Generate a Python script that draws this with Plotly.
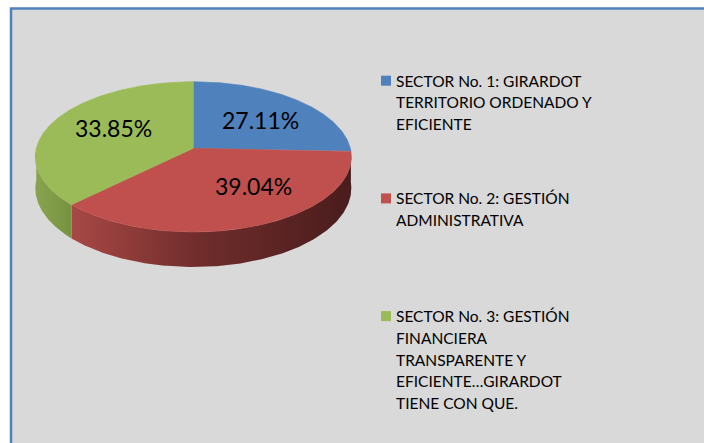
import textwrap
import numpy as np
import plotly.graph_objects as go

# ---- data -------------------------------------------------------------
categories = [
    "SECTOR No. 1: GIRARDOT TERRITORIO ORDENADO Y EFICIENTE",
    "SECTOR No. 2: GESTIÓN ADMINISTRATIVA",
    "SECTOR No. 3: GESTIÓN FINANCIERA TRANSPARENTE Y EFICIENTE…GIRARDOT TIENE CON QUE.",
]
shares = [27.11, 39.04, 33.85]

# ---- styles -----------------------------------------------------------
top_colors = ["#4F81BD", "#C0504D", "#9BBB59"]
wall_scales = [
    [[0, "#3F6896"], [1, "#2E4C70"]],
    [[0, "#A84845"], [0.45, "#702D2C"], [1, "#4A1C1C"]],
    [[0, "#88A451"], [1, "#779340"]],
]
FONT = "Lato"

# ---- 3-D pie camera (pixel space of a 704x443 page) -------------------
CX, CY = 193.3, 148.3      # projected centre of the top face
AX = 157.0                 # horizontal radius
PY, K = 57.3, 0.1138       # vertical scale / perspective strength
DEPTH = 31.0               # pie thickness
WARP, WARP_POW = 26.0, 5.4  # front foreshortening of slice angles


def warp(theta):
    t = np.asarray(theta, dtype=float)
    return t - WARP * np.sin(np.radians(t) / 2) ** WARP_POW


def project(phi, r=1.0, drop=0.0):
    p = np.radians(phi)
    u = r * np.sin(p)
    v = -r * np.cos(p)
    w = 1 - K * v
    return CX + AX * u / w, (CY + PY * v) / w + drop / w


fig = go.Figure()

# slice boundaries, clockwise from 12 o'clock
cum = np.concatenate([[0], np.cumsum(shares)]) / np.sum(shares) * 360.0
wa_all = warp(cum)

# side walls (front half only), drawn first so tops cover them
for i in range(len(shares)):
    a, b = max(wa_all[i], 90.0), min(wa_all[i + 1], 270.0)
    if a >= b:
        continue
    ph = np.linspace(a, b, 200)
    xt, yt = project(ph)
    xb, yb = project(ph[::-1], drop=DEPTH)
    xs = np.concatenate([xt, xb, xt[:1]])
    ys = np.concatenate([yt, yb, yt[:1]])
    fig.add_trace(go.Scatter(
        x=xs, y=ys, mode="lines", fill="toself",
        line=dict(width=0), fillgradient=dict(type="horizontal", colorscale=wall_scales[i]),
        hoverinfo="skip", showlegend=False))

# top faces
for i in range(len(shares)):
    ph = np.linspace(wa_all[i], wa_all[i + 1], 300)
    xr, yr = project(ph)
    xs = np.concatenate([[CX], xr, [CX]])
    ys = np.concatenate([[CY], yr, [CY]])
    fig.add_trace(go.Scatter(
        x=xs, y=ys, mode="lines", fill="toself", fillcolor=top_colors[i],
        line=dict(width=0.6, color=top_colors[i]),
        hoverinfo="skip", showlegend=False))

# percentage labels at the slice middles
mids = warp((cum[:-1] + cum[1:]) / 2)
lx, ly = project(mids, r=0.6)
for i, s in enumerate(shares):
    fig.add_annotation(x=lx[i], y=ly[i], text=f"{s:.2f}%", showarrow=False,
                       xanchor="center", yanchor="middle",
                       font=dict(family=FONT, size=23, color="#000000"))

# legend: swatches + wrapped text
LEG_X, LEG_Y0, LEG_STEP, LINE_H = 386.0, 80.7, 117.7, 21.7
fig.add_trace(go.Scatter(
    x=[LEG_X] * len(categories),
    y=[LEG_Y0 + LEG_STEP * i for i in range(len(categories))],
    mode="markers",
    marker=dict(symbol="square", size=10, color=top_colors, line=dict(width=0)),
    hoverinfo="skip", showlegend=False))
for i, name in enumerate(categories):
    for j, line in enumerate(textwrap.wrap(name, 22)):
        fig.add_annotation(x=LEG_X + 8, y=LEG_Y0 + LEG_STEP * i + LINE_H * j,
                           text=line, showarrow=False, xanchor="left", yanchor="middle",
                           font=dict(family=FONT, size=15.5, color="#000000"))

# chart area frame
fig.add_shape(type="rect", x0=11, y0=8.5, x1=760, y1=500,
              line=dict(color="#4F81BD", width=2.5), fillcolor="#D9D9D9", layer="below")

fig.update_layout(
    width=704, height=443, margin=dict(l=0, r=0, t=0, b=0),
    paper_bgcolor="#FFFFFF", plot_bgcolor="#FFFFFF", showlegend=False,
    xaxis=dict(range=[0, 704], visible=False, fixedrange=True),
    yaxis=dict(range=[443, 0], visible=False, fixedrange=True),
)

fig.write_html("out.html")
